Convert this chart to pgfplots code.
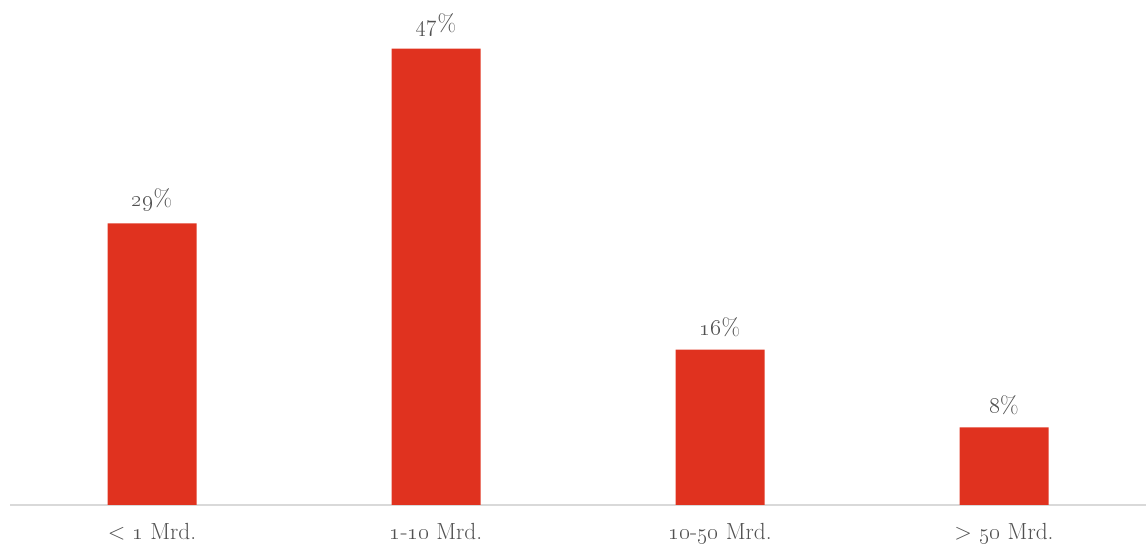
\documentclass[border=0pt]{standalone}
\usepackage{pgfplots}
\pgfplotsset{compat=1.18}
\definecolor{barred}{HTML}{E0321F}
\definecolor{labelgray}{HTML}{505050}
\definecolor{axisgray}{HTML}{D9D9D9}
\newcommand{\os}[1]{\oldstylenums{#1}}
\begin{document}
\begin{tikzpicture}
\path[use as bounding box] (-7.5pt,-32.25pt) rectangle (852pt,378.75pt);
\begin{axis}[
  at={(0,0)}, anchor=south west,
  scale only axis,
  width=852pt, height=378.75pt,
  xmin=-0.5, xmax=3.5,
  ymin=0, ymax=52,
  axis x line*=bottom,
  axis y line=none,
  x axis line style={draw=axisgray, line width=1.4pt, -},
  xtick={0,1,2,3},
  xticklabels={$<$ \os{1} Mrd., \os{1}-\os{10} Mrd., \os{10}-\os{50} Mrd., $>$ \os{50} Mrd.},
  major tick length=0pt,
  xticklabel style={font=\fontsize{17.5}{20}\selectfont, text=labelgray, yshift=-10pt},
  ybar,
  bar width=66.75pt,
  nodes near coords={\os{\pgfmathprintnumber[assume math mode=true,fixed,precision=0]{\pgfplotspointmeta}}\%},
  nodes near coords style={font=\fontsize{18}{20}\selectfont, text=labelgray, anchor=south, yshift=6pt},
  point meta=y,
]
\addplot[fill=barred, draw=none] coordinates {(0,29) (1,47) (2,16) (3,8)};
\end{axis}
\end{tikzpicture}
\end{document}
